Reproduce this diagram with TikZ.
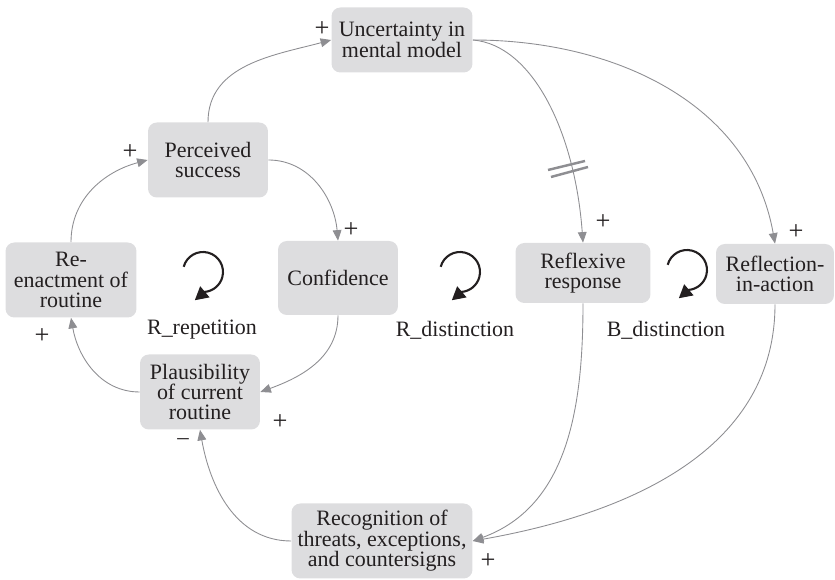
\documentclass[tikz,border=0pt]{standalone}
\usepackage{fontspec}
\setmainfont{Liberation Serif}
\usetikzlibrary{arrows.meta}
\definecolor{boxfill}{HTML}{DDDDDF}
\definecolor{linkcolor}{HTML}{8E8E92}
\definecolor{inkcolor}{HTML}{231F20}
\tikzset{
	varnode/.style={
		fill=boxfill,
		rounded corners=5pt,
		inner sep=0pt,
		align=center,
		text=inkcolor,
		font=\fontsize{12.5}{11.6}\selectfont
	},
	link/.style={
		-{Triangle[length=6pt,width=5pt]},
		color=linkcolor,
		line width=0.5pt
	},
	polarity/.style={
		text=inkcolor,
		inner sep=0pt,
		font=\fontsize{15}{15}\selectfont
	},
	looplabel/.style={
		text=inkcolor,
		font=\fontsize{12.5}{12.5}\selectfont
	},
	loopsym/.style={
		-{Triangle[length=7.5pt,width=8pt]},
		color=inkcolor,
		line width=1.2pt
	},
	delaymark/.style={
		color=linkcolor,
		line width=1.4pt
	}
}

\begin{document}
\begin{tikzpicture}[x=0.02cm, y=0.02cm]
	\useasboundingbox (0,0) rectangle (835,580);
	
	% Variables
	\node[varnode, minimum width=2.82cm, minimum height=1.3cm] (unc) at (402,540)
	{Uncertainty in\\mental model};
	\node[varnode, minimum width=2.4cm, minimum height=1.5cm] (succ) at (208,420)
	{Perceived\\success};
	\node[varnode, minimum width=2.62cm, minimum height=1.5cm] (reen) at (71,300)
	{Re-\\enactment of\\routine};
	\node[varnode, minimum width=2.4cm, minimum height=1.48cm] (conf) at (338,302)
	{Confidence};
	\node[varnode, minimum width=2.4cm, minimum height=1.5cm] (plaus) at (200,188)
	{Plausibility\\of current\\routine};
	\node[varnode, minimum width=2.7cm, minimum height=1.2cm] (refl) at (583,307)
	{Reflexive\\response};
	\node[varnode, minimum width=2.36cm, minimum height=1.2cm] (ria) at (775,306)
	{Reflection-\\in-action};
	\node[varnode, minimum width=3.62cm, minimum height=1.5cm] (recog) at (382,39)
	{Recognition of\\threats, exceptions,\\and countersigns};
	
	% Causal links
	\draw[link] (succ.north) to[out=90, in=195] (unc.west);
	\draw[link] (succ.east) to[out=0, in=95] (conf.north);
	\draw[link] (conf.south) to[out=-90, in=20] (plaus.east);
	\draw[link] (plaus.west) to[out=180, in=-80] (reen.south);
	\draw[link] (reen.north) to[out=90, in=195] (succ.west);
	\draw[link] (unc.east) .. controls +(60,-5) and +(-8,110) .. (refl.north);
	\draw[link] (unc.east) to[out=0, in=100] (ria.north);
	\draw[link] (refl.south) to[out=-90, in=20] (recog.east);
	\draw[link] (ria.south) to[out=-90, in=10] (recog.east);
	\draw[link] (recog.west) to[out=180, in=-80] (plaus.south);
	
	% Delay on the reflexive link
	\draw[delaymark] (548,410) -- (585,419);
	\draw[delaymark] (551,403) -- (588,413);
	
	% Polarities
	\node[polarity] (p1) at (322,551) {+};
	\node[polarity] (p2) at (130,428) {+};
	\node[polarity] (p3) at (351,350) {+};
	\node[polarity] (p4) at (280,158) {+};
	\node[polarity] (p5) at (42,244) {+};
	\node[polarity, font=\fontsize{13}{13}\selectfont] (p6) at (183,138) {–};
	\node[polarity] (p7) at (603,358) {+};
	\node[polarity] (p8) at (796,348) {+};
	\node[polarity] (p9) at (488,19) {+};
	
	% Loop markers
	\foreach \cx/\cy in {203/308, 460/308, 687/310}
	\draw[loopsym] (\cx,\cy) ++(165:0.4cm) arc[start angle=165, end angle=-85, radius=0.4cm]
	-- ++(-140:0.26cm);
	
	\node[looplabel] (rrep) at (202,250) {R\_repetition};
	\node[looplabel] (rdis) at (455,250) {R\_distinction};
	\node[looplabel] (bdis) at (666,250) {B\_distinction};
	
\end{tikzpicture}
\end{document}
